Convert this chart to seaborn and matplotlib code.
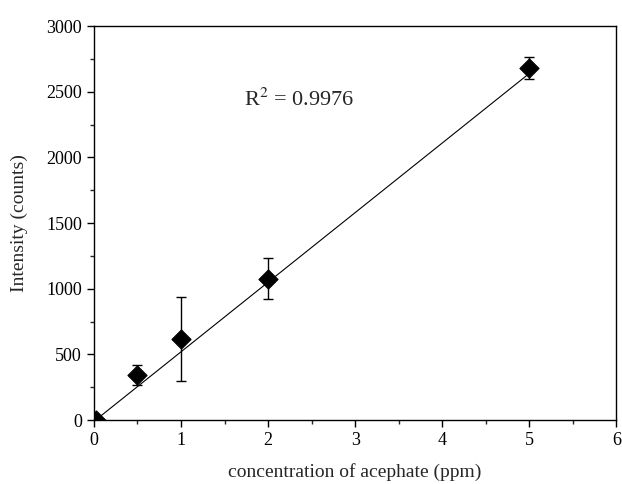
import matplotlib
matplotlib.use("Agg")
from matplotlib import pyplot as plt
from matplotlib.ticker import MultipleLocator
import numpy as np
import pandas as pd
import seaborn as sns

# dati
concentrazione = [0.02, 0.5, 1, 2, 5]
intensita = [0, 343, 615, 1078, 2680]
errore = [15, 76, 320, 155, 85]
# retta di calibrazione (stimata dal grafico)
pendenza = 530
intercetta = -10
r2_testo = "R$^2$ = 0.9976"

df = pd.DataFrame({"conc": concentrazione, "int": intensita, "err": errore})
x_fit = np.array([min(concentrazione), max(concentrazione)])
df_fit = pd.DataFrame({"conc": x_fit, "int": pendenza * x_fit + intercetta})

sns.set_theme(style="ticks")
plt.rcParams['font.family'] = ['Liberation Serif', 'DejaVu Serif']
plt.rcParams['mathtext.fontset'] = 'stix'

fig = plt.figure(figsize=(6.22, 4.84), dpi=100)
ax = fig.add_axes([0.151, 0.132, 0.84, 0.814])

# retta di regressione
sns.lineplot(data=df_fit, x="conc", y="int", color="black", lw=0.8, ax=ax)

# barre di errore
ax.errorbar(df["conc"], df["int"], yerr=df["err"], fmt="none",
            ecolor="black", elinewidth=1, capsize=3.5, capthick=1)

# punti
sns.scatterplot(data=df, x="conc", y="int", marker="D", s=95,
                color="black", edgecolor="black", ax=ax, zorder=5)

ax.text(1.72, 2440, r2_testo, fontsize=16, va="center", ha="left")

ax.set_xlim(0, 6)
ax.set_ylim(0, 3000)
ax.xaxis.set_major_locator(MultipleLocator(1))
ax.xaxis.set_minor_locator(MultipleLocator(0.5))
ax.yaxis.set_major_locator(MultipleLocator(500))
ax.yaxis.set_minor_locator(MultipleLocator(250))
ax.tick_params(which="major", direction="out", length=5, width=1, labelsize=13, colors="black")
ax.tick_params(which="minor", direction="out", length=3, width=1)
ax.tick_params(top=False, right=False)

for s in ax.spines.values():
    s.set_visible(True)
    s.set_linewidth(1)
    s.set_color("black")

ax.set_xlabel("concentration of acephate (ppm)", fontsize=14, labelpad=10)
ax.set_ylabel("Intensity (counts)", fontsize=14, labelpad=13)

fig.savefig("out.png", dpi=100)
